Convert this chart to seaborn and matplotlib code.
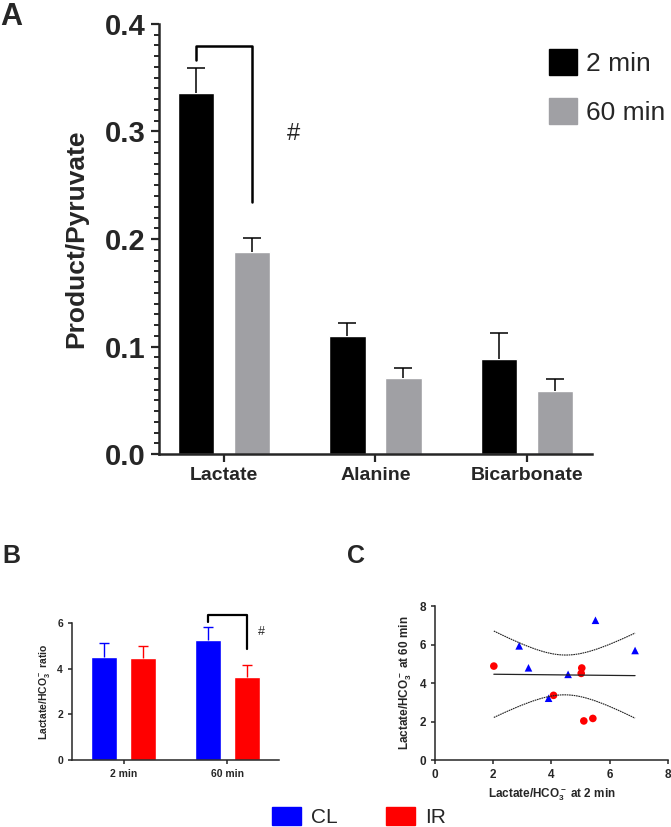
import numpy as np
import pandas as pd
import seaborn as sns
import matplotlib.pyplot as plt
from matplotlib.patches import Patch
from matplotlib.ticker import MultipleLocator

# Panel A: product/pyruvate ratios (mean, SEM)
products = ['Lactate', 'Alanine', 'Bicarbonate']
mean_2min = [0.336, 0.110, 0.088]
sem_2min = [0.023, 0.012, 0.025]
mean_60min = [0.188, 0.071, 0.059]
sem_60min = [0.013, 0.009, 0.011]

# Panel B: lactate/HCO3- ratio per group
times = ['2 min', '60 min']
mean_CL = [4.52, 5.24]
sem_CL = [0.60, 0.57]
mean_IR = [4.48, 3.63]
sem_IR = [0.50, 0.53]

# Panel C: 2 min vs 60 min per animal
cl_x = [5.51, 2.89, 6.87, 3.21, 4.57, 3.90]
cl_y = [7.26, 5.93, 5.69, 4.79, 4.45, 3.21]
ir_x = [2.02, 5.04, 5.02, 4.07, 5.11, 5.42]
ir_y = [4.88, 4.78, 4.50, 3.36, 2.03, 2.16]

sns.set_style('ticks')
plt.rcParams['font.family'] = ['Liberation Sans', 'DejaVu Sans']
plt.rcParams['mathtext.default'] = 'regular'

fig = plt.figure(figsize=(6.71, 8.27), dpi=100)
axA = fig.add_axes([0.237, 0.451, 0.645, 0.520])
axB = fig.add_axes([0.1073, 0.081, 0.3085, 0.1657])
axC = fig.add_axes([0.6483, 0.081, 0.3472, 0.1862])


def up_errbars(ax, sem_lists, colors, capsize, lw):
    # upward-only error bars on top of each seaborn bar
    for cont, sems, c in zip(ax.containers, sem_lists, colors):
        for bar, e in zip(cont, sems):
            xc = bar.get_x() + bar.get_width() / 2
            eb = ax.errorbar(xc, bar.get_height(), yerr=[[0], [e]], color=c,
                             capsize=capsize, elinewidth=lw, capthick=lw, zorder=1)
            eb[1][0].set_visible(False)


# ---- A ----
dfA = pd.DataFrame({'product': products * 2,
                    'time': ['2 min'] * 3 + ['60 min'] * 3,
                    'value': mean_2min + mean_60min})
palA = {'2 min': 'black', '60 min': '#a0a0a4'}
sns.barplot(data=dfA, x='product', y='value', hue='time', palette=palA,
            width=0.74, gap=0.35, errorbar=None, saturation=1, legend=False, ax=axA)
up_errbars(axA, [sem_2min, sem_60min], ['black', 'black'], 6.5, 1.1)
bl = axA.containers[0][0]
gr = axA.containers[1][0]
x0 = bl.get_x() + bl.get_width() / 2
x1 = gr.get_x() + gr.get_width() / 2
axA.plot([x0, x0, x1, x1], [0.3665, 0.3798, 0.3798, 0.2347], color='black', lw=1.8)
axA.text(0.457, 0.298, '#', fontsize=17, ha='center', va='center')
axA.set_xlim(-0.43, 2.43)
axA.set_ylim(0, 0.4)
axA.yaxis.set_major_locator(MultipleLocator(0.1))
axA.yaxis.set_minor_locator(MultipleLocator(0.01))
axA.set_xlabel('')
axA.set_ylabel('Product/Pyruvate', fontsize=19, fontweight='bold', labelpad=12)
axA.tick_params(axis='y', which='major', labelsize=21, width=1.6, length=6)
axA.tick_params(axis='y', which='minor', width=1.4, length=3.5)
axA.tick_params(axis='x', labelsize=14, width=1.6, length=6)
for lab in axA.get_xticklabels() + axA.get_yticklabels():
    lab.set_fontweight('bold')
for s in ['left', 'bottom']:
    axA.spines[s].set_linewidth(1.8)
sns.despine(ax=axA)
fig.legend(handles=[Patch(color='black', label='2 min'), Patch(color='#a0a0a4', label='60 min')],
           loc='upper left', bbox_to_anchor=(0.818, 0.941), frameon=False, fontsize=19,
           handlelength=1.05, handleheight=1.15, handletextpad=0.35, labelspacing=0.85,
           borderpad=0, borderaxespad=0)

# ---- B ----
dfB = pd.DataFrame({'time': times * 2,
                    'group': ['CL'] * 2 + ['IR'] * 2,
                    'value': mean_CL + mean_IR})
palB = {'CL': '#0000ff', 'IR': '#ff0000'}
sns.barplot(data=dfB, x='time', y='value', hue='group', palette=palB,
            width=0.76, gap=0.34, errorbar=None, saturation=1, legend=False, ax=axB)
up_errbars(axB, [sem_CL, sem_IR], ['#0000ff', '#ff0000'], 3.5, 1.0)
b1 = axB.containers[0][1]
r1 = axB.containers[1][1]
xb0 = b1.get_x() + b1.get_width() / 2
xb1 = r1.get_x() + r1.get_width() / 2
axB.plot([xb0, xb0, xb1, xb1], [6.05, 6.37, 6.37, 4.84], color='black', lw=1.6, clip_on=False)
axB.text(1.33, 5.62, '#', fontsize=9, ha='center', va='center')
axB.set_xlim(-0.5, 1.5)
axB.set_ylim(0, 6)
axB.set_yticks([0, 2, 4, 6])
axB.set_xlabel('')
axB.set_ylabel('Lactate/HCO$_3^-$ ratio', fontsize=7.5, fontweight='bold')
axB.tick_params(labelsize=7.5, width=1.1, length=3)
for lab in axB.get_xticklabels() + axB.get_yticklabels():
    lab.set_fontweight('bold')
for s in ['left', 'bottom']:
    axB.spines[s].set_linewidth(1.1)
sns.despine(ax=axB)

# ---- C ----
sns.scatterplot(x=cl_x, y=cl_y, marker='^', color='#0000ff', s=30, edgecolor='none', ax=axC)
sns.scatterplot(x=ir_x, y=ir_y, marker='o', color='#ff0000', s=30, edgecolor='none', ax=axC)
allx = np.array(cl_x + ir_x)
ally = np.array(cl_y + ir_y)
slope, icpt = np.polyfit(allx, ally, 1)
n = len(allx)
resid = ally - (slope * allx + icpt)
s_err = np.sqrt(np.sum(resid ** 2) / (n - 2))
sxx = np.sum((allx - allx.mean()) ** 2)
xs = np.linspace(allx.min(), allx.max(), 100)
yhat = slope * xs + icpt
half = 2.228 * s_err * np.sqrt(1 / n + (xs - allx.mean()) ** 2 / sxx)
axC.plot(xs, yhat, color='#222222', lw=0.9)
axC.plot(xs, yhat + half, color='#222222', lw=0.8, ls=(0, (1.5, 0.6)))
axC.plot(xs, yhat - half, color='#222222', lw=0.8, ls=(0, (1.5, 0.6)))
axC.set_xlim(0, 8)
axC.set_ylim(0, 8)
axC.set_xticks([0, 2, 4, 6, 8])
axC.set_yticks([0, 2, 4, 6, 8])
axC.set_xlabel('Lactate/HCO$_3^-$ at 2 min', fontsize=8.5, fontweight='bold')
axC.set_ylabel('Lactate/HCO$_3^-$ at 60 min', fontsize=8.5, fontweight='bold')
axC.tick_params(labelsize=8.5, width=1.1, length=3)
for lab in axC.get_xticklabels() + axC.get_yticklabels():
    lab.set_fontweight('bold')
for s in ['left', 'bottom']:
    axC.spines[s].set_linewidth(1.1)
sns.despine(ax=axC)

# shared legend
fig.legend(handles=[Patch(color='#0000ff', label='CL'), Patch(color='#ff0000', label='IR')],
           loc='center', bbox_to_anchor=(0.535, 0.012), ncol=2, frameon=False, fontsize=15,
           handlelength=1.4, handleheight=1.0, handletextpad=0.5, columnspacing=2.3)

fig.text(0.0, 0.998, 'A', fontsize=22, fontweight='bold', va='top')
fig.text(0.003, 0.342, 'B', fontsize=18, fontweight='bold', va='top')
fig.text(0.517, 0.342, 'C', fontsize=18, fontweight='bold', va='top')

fig.savefig('out.png', dpi=100)
